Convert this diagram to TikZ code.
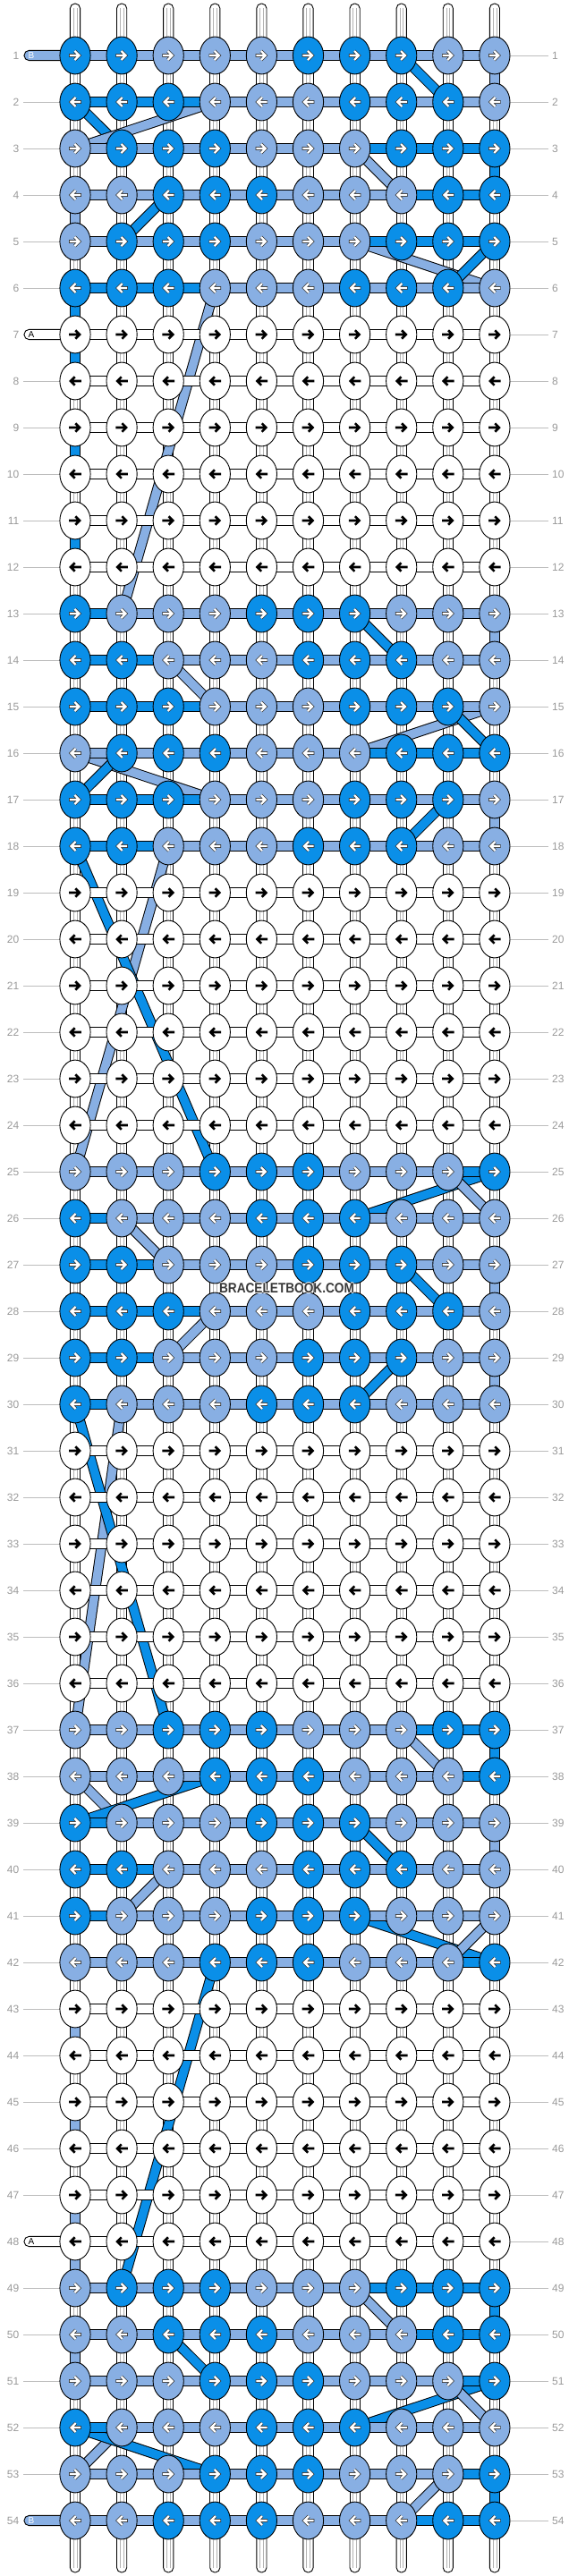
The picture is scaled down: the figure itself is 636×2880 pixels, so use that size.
\documentclass[tikz,border=0pt]{standalone}
\usepackage{fontspec}
\setmainfont{Liberation Sans}
\usetikzlibrary{shapes.geometric}
\definecolor{dk}{HTML}{0A8FE8}
\definecolor{lt}{HTML}{88AFE3}
\definecolor{lbl}{HTML}{9A9A9A}
\definecolor{lln}{HTML}{BDBDBD}
\colorlet{D}{dk}
\colorlet{L}{lt}
\tikzset{
  bord/.style={draw=black, line width=0.9pt},
  knot/.style={ellipse, bord, minimum width=34.2pt, minimum height=41.8pt, inner sep=0pt},
  strandline/.style={draw=black!30, line width=0.5pt},
  rowlbl/.style={text=lbl, font=\fontsize{12}{12}\selectfont, inner sep=0pt},
  warr/.pic={
    \draw[line width=3.7pt, black!80, line join=miter, miter limit=10] (-6.8,0)--(3.6,0) (-0.6,-5)--(4.4,0)--(-0.6,5);
    \draw[line width=2.3pt, white, line join=miter, miter limit=10] (-6.1,0)--(3.4,0) (-0.6,-5)--(4.4,0)--(-0.6,5);
  },
  barr/.pic={
    \draw[line width=2.6pt, black, line join=miter, miter limit=10] (-6.8,0)--(4.4,0) (0.3,-4.7)--(5,0)--(0.3,4.7);
  },
}
\begin{document}
\begin{tikzpicture}[x=1pt,y=-1pt]
\useasboundingbox (0,0) rectangle (636,2880);
\fill[white] (0,0) rectangle (636,2880);
% grid coordinates
\foreach \rr in {1,...,54}{
  \foreach \cc in {1,...,10}{
    \coordinate (p-\rr-\cc) at ({84+(\cc-1)*52.1},{62+(\rr-1)*52});
  }
}
% row labels and guide lines
\foreach \rr in {1,...,54}{
  \coordinate (la-\rr) at (26,{62+(\rr-1)*52});
  \coordinate (lb-\rr) at (613,{62+(\rr-1)*52});
  \node[rowlbl, anchor=east] (ln-\rr) at (21.5,{62+(\rr-1)*52}) {\rr};
  \node[rowlbl, anchor=west] (rn-\rr) at (617,{62+(\rr-1)*52}) {\rr};
  \draw[lln, line width=0.8pt] (la-\rr) -- (p-\rr-1);
  \draw[lln, line width=0.8pt] (p-\rr-10) -- (lb-\rr);
}
% top and bottom strand ends
\foreach \cc in {1,...,10}{
  \coordinate (top-\cc) at ({84+(\cc-1)*52.1},4);
  \coordinate (bot-\cc) at ({84+(\cc-1)*52.1},2876);
  \filldraw[fill=white, bord, rounded corners=5.4pt] ([xshift=-5.6pt]top-\cc) rectangle ([xshift=5.6pt]p-1-\cc);
  \draw[strandline] ([xshift=-1.9pt,yshift=-5pt]top-\cc) -- ([xshift=-1.9pt]p-1-\cc) ([xshift=1.9pt,yshift=-5pt]top-\cc) -- ([xshift=1.9pt]p-1-\cc);
  \filldraw[fill=white, bord, rounded corners=5.4pt] ([xshift=-5.6pt]p-54-\cc) rectangle ([xshift=5.6pt]bot-\cc);
  \draw[strandline] ([xshift=-1.9pt,yshift=5pt]bot-\cc) -- ([xshift=-1.9pt]p-54-\cc) ([xshift=1.9pt,yshift=5pt]bot-\cc) -- ([xshift=1.9pt]p-54-\cc);
}
% vertical links between rows
\foreach \rr in {1,...,53}{
  \pgfmathtruncatemacro\rn{\rr+1}
  \foreach \cc in {1,...,10}{
    \filldraw[fill=white, bord] ([xshift=-5.6pt]p-\rr-\cc) rectangle ([xshift=5.6pt]p-\rn-\cc);
    \draw[strandline] ([xshift=-1.9pt]p-\rr-\cc) -- ([xshift=-1.9pt]p-\rn-\cc) ([xshift=1.9pt]p-\rr-\cc) -- ([xshift=1.9pt]p-\rn-\cc);
  }
}
\foreach \rr/\cc/\col in {1/10/L, 3/10/D, 4/1/L, 6/1/D, 7/1/D, 9/1/D, 11/1/D, 13/10/L, 17/10/L, 27/10/L, 29/10/L, 37/10/D, 39/10/L, 43/1/L, 45/1/L, 47/1/L, 48/1/L, 49/10/D, 50/1/L, 53/10/D}{
  \pgfmathtruncatemacro\rn{\rr+1}
  \filldraw[fill=\col, bord] ([xshift=-5.6pt]p-\rr-\cc) rectangle ([xshift=5.6pt]p-\rn-\cc);
}
% diagonal strand moves
\foreach \ra/\ca/\rb/\cb/\col in {1/8/2/9/D, 2/1/3/2/D, 2/4/3/1/L, 3/7/4/8/L, 4/3/5/2/D, 5/7/6/10/L, 5/10/6/9/D, 6/4/13/2/L, 13/7/14/8/D, 14/3/15/4/L, 15/10/16/7/L, 15/9/16/10/D, 16/1/17/4/L, 16/2/17/1/D, 17/9/18/8/D, 18/3/25/1/L, 18/1/25/4/D, 25/10/26/7/D, 25/9/26/10/L, 26/2/27/3/L, 27/8/28/9/D, 28/4/29/3/L, 29/8/30/7/D, 30/2/37/1/L, 30/1/37/3/D, 37/8/38/9/L, 38/1/39/2/L, 38/4/39/1/D, 39/7/40/8/D, 40/3/41/2/L, 41/7/42/10/D, 41/10/42/9/L, 42/4/49/2/D, 49/7/50/8/L, 50/3/51/4/D, 51/10/52/7/D, 51/9/52/10/L, 52/2/53/1/L, 52/1/53/4/D, 53/9/54/8/L}{
  \draw[line width=11.6pt, color=black] (p-\ra-\ca) -- (p-\rb-\cb);
  \draw[line width=9.6pt, color=\col] (p-\ra-\ca) -- (p-\rb-\cb);
}
% left thread pills
\foreach \rr/\col/\txt/\tcol in {1/L/B/white, 54/L/B/white, 7/white/A/black, 48/white/A/black}{
  \coordinate (pl-\rr) at (27,{62+(\rr-1)*52});
  \filldraw[fill=\col, bord, rounded corners=5.4pt] ([yshift=5.6pt]pl-\rr) rectangle ([yshift=-5.6pt]p-\rr-1);
  \node[text=\tcol, font=\fontsize{10}{10}\selectfont, inner sep=0pt] (pt-\rr) at (35,{62+(\rr-1)*52}) {\txt};
}
% coloured rows
\foreach \rr/\knots/\segs in {
1/{D,D,L,L,L,D,D,D,L,L}/{L,L,L,L,L,L,L,L,L},
2/{D,D,D,L,L,L,D,D,D,L}/{D,D,D,L,L,L,L,L,L},
3/{L,D,D,D,L,L,L,D,D,D}/{L,L,L,L,L,L,D,D,D},
4/{L,L,D,D,D,L,L,L,D,D}/{L,L,L,L,L,L,L,D,D},
5/{L,D,D,D,L,L,L,D,D,D}/{L,L,L,L,L,L,D,D,D},
6/{D,D,D,L,L,L,D,D,D,L}/{D,D,D,L,L,L,L,L,L},
13/{D,L,L,L,D,D,D,L,L,L}/{D,L,L,L,L,L,L,L,L},
14/{D,D,L,L,L,D,D,D,L,L}/{D,D,L,L,L,L,L,L,L},
15/{D,D,D,L,L,L,D,D,D,L}/{D,D,D,L,L,L,L,L,L},
16/{L,D,D,D,L,L,L,D,D,D}/{L,L,L,L,L,L,D,D,D},
17/{D,D,D,L,L,L,D,D,D,L}/{D,D,D,L,L,L,L,L,L},
18/{D,D,L,L,L,D,D,D,L,L}/{D,D,L,L,L,L,L,L,L},
25/{L,L,L,D,D,D,L,L,L,D}/{L,L,L,L,L,L,L,L,D},
26/{D,L,L,L,D,D,D,L,L,L}/{D,L,L,L,L,L,L,L,L},
27/{D,D,L,L,L,D,D,D,L,L}/{D,D,L,L,L,L,L,L,L},
28/{D,D,D,L,L,L,D,D,D,L}/{D,D,D,L,L,L,L,L,L},
29/{D,D,L,L,L,D,D,D,L,L}/{D,D,L,L,L,L,L,L,L},
30/{D,L,L,L,D,D,D,L,L,L}/{D,L,L,L,L,L,L,L,L},
37/{L,L,D,D,D,L,L,L,D,D}/{L,L,L,L,L,L,L,D,D},
38/{L,L,L,D,D,D,L,L,L,D}/{L,L,L,L,L,L,L,L,D},
39/{D,L,L,L,D,D,D,L,L,L}/{D,L,L,L,L,L,L,L,L},
40/{D,D,L,L,L,D,D,D,L,L}/{D,D,L,L,L,L,L,L,L},
41/{D,L,L,L,D,D,D,L,L,L}/{D,L,L,L,L,L,L,L,L},
42/{L,L,L,D,D,D,L,L,L,D}/{L,L,L,L,L,L,L,L,D},
49/{L,D,D,D,L,L,L,D,D,D}/{L,L,L,L,L,L,D,D,D},
50/{L,L,D,D,D,L,L,L,D,D}/{L,L,L,L,L,L,L,D,D},
51/{L,L,L,D,D,D,L,L,L,D}/{L,L,L,L,L,L,L,L,D},
52/{D,L,L,L,D,D,D,L,L,L}/{D,L,L,L,L,L,L,L,L},
53/{L,L,L,D,D,D,L,L,L,D}/{L,L,L,L,L,L,L,L,D},
54/{L,L,D,D,D,L,L,L,D,D}/{L,L,L,L,L,L,L,D,D}}{
  \ifodd\rr\relax\def\dd{1}\else\def\dd{-1}\fi
  \foreach \sc [count=\cc] in \segs {
    \pgfmathtruncatemacro\cn{\cc+1}
    \filldraw[fill=\sc, bord] ([yshift=5.6pt]p-\rr-\cc) rectangle ([yshift=-5.6pt]p-\rr-\cn);
  }
  \foreach \kc [count=\cc] in \knots {
    \node[knot, fill=\kc] (k-\rr-\cc) at (p-\rr-\cc) {};
    \path (p-\rr-\cc) pic[xscale=\dd] {warr};
  }
}
% white rows
\foreach \bb in {6,18,30,42}{
  \foreach \ii in {1,...,6}{
    \pgfmathtruncatemacro\rr{\bb+\ii}
    \ifodd\rr\relax\def\dd{1}\else\def\dd{-1}\fi
    \foreach \cc in {1,...,9}{
      \pgfmathtruncatemacro\cn{\cc+1}
      \filldraw[fill=white, bord] ([yshift=5.6pt]p-\rr-\cc) rectangle ([yshift=-5.6pt]p-\rr-\cn);
    }
    \foreach \cc in {1,...,10}{
      \node[knot, fill=white] (k-\rr-\cc) at (p-\rr-\cc) {};
      \path (p-\rr-\cc) pic[xscale=\dd] {barr};
    }
  }
}
% watermark
\foreach \dx/\dy [count=\nn] in {0.9/0, -0.9/0, 0/0.9, 0/-0.9}{
  \node[font=\bfseries\fontsize{15.5}{15.5}\selectfont, text=white, xscale=0.88, inner sep=0pt] (wmh-\nn) at (320.5+\dx,1440+\dy) {BRACELETBOOK.COM};
}
\node[font=\bfseries\fontsize{15.5}{15.5}\selectfont, text=black!78, xscale=0.88, inner sep=0pt] (wm) at (320.5,1440) {BRACELETBOOK.COM};
\end{tikzpicture}
\end{document}
